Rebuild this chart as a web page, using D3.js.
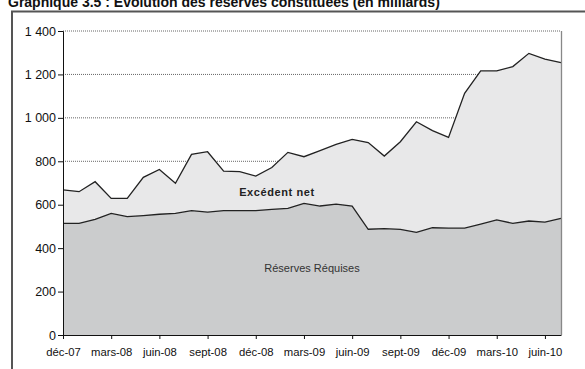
<!DOCTYPE html>
<html>
<head>
<meta charset="utf-8">
<script src="https://cdn.jsdelivr.net/npm/d3@7/dist/d3.min.js"></script>
<style>
  html, body { margin: 0; padding: 0; background: #fff; }
  svg { display: block; font-family: Arial, "Liberation Sans", sans-serif; }
</style>
</head>
<body>
<svg id="chart" width="585" height="369"></svg>
<script>
// Monthly observations, déc-07 … juil-10 (milliards)
const months = [
  "déc-07", "janv-08", "févr-08", "mars-08", "avr-08", "mai-08", "juin-08", "juil-08",
  "août-08", "sept-08", "oct-08", "nov-08", "déc-08", "janv-09", "févr-09", "mars-09",
  "avr-09", "mai-09", "juin-09", "juil-09", "août-09", "sept-09", "oct-09", "nov-09",
  "déc-09", "janv-10", "févr-10", "mars-10", "avr-10", "mai-10", "juin-10", "juil-10"
];
const reservesRequises = [
  514, 514, 533, 560, 545, 550, 556, 560, 573, 566, 573, 573, 573, 579, 583, 606,
  594, 603, 594, 487, 490, 486, 473, 494, 492, 492, 511, 530, 514, 525, 520, 537
];
const excedentNet = [
  154, 146, 173, 69, 84, 176, 206, 139, 259, 278, 182, 179, 159, 192, 258, 215,
  255, 275, 307, 399, 334, 404, 509, 447, 418, 621, 705, 686, 722, 772, 751, 717
];
const yTicks = [0, 200, 400, 600, 800, 1000, 1200, 1400];
const xTickLabels = ["déc-07", "mars-08", "juin-08", "sept-08", "déc-08", "mars-09",
  "juin-09", "sept-09", "déc-09", "mars-10", "juin-10"];

const svg = d3.select("#chart");
const plotLeft = 63, plotRight = 561, plotTop = 31, plotBottom = 335;

const x = d3.scalePoint().domain(months).range([plotLeft, plotRight]);
const y = d3.scaleLinear().domain([0, 1400]).range([plotBottom, plotTop]);
const fr = d3.formatLocale({ decimal: ",", thousands: " ", grouping: [3], currency: ["", " €"] });
const fmt = fr.format(",d");

// Title (partly above the frame)
svg.append("text")
  .attr("x", 8).attr("y", 7)
  .attr("font-size", 14).attr("font-weight", "bold").attr("fill", "#111")
  .text("Graphique 3.5 : Evolution des réserves constituées (en milliards)");

// Outer frame
svg.append("path")
  .attr("d", "M12,380 L12,11.5 L590,11.5")
  .attr("fill", "none").attr("stroke", "#555").attr("stroke-width", 2);

// Gridlines
svg.append("g").selectAll("line")
  .data(yTicks.filter(d => d > 0))
  .join("line")
  .attr("x1", plotLeft).attr("x2", plotRight)
  .attr("y1", d => y(d)).attr("y2", d => y(d))
  .attr("stroke", "#666").attr("stroke-width", 1)
  .attr("stroke-dasharray", "1,1");

// Stacked areas
const stackData = months.map((m, i) => ({ m, req: reservesRequises[i], exc: excedentNet[i] }));
const series = d3.stack().keys(["req", "exc"])(stackData);
const fills = { req: "#cbcccd", exc: "#e8e8e9" };

const area = d3.area()
  .x(d => x(d.data.m))
  .y0(d => y(d[0]))
  .y1(d => y(d[1]));
const line = d3.line()
  .x(d => x(d.data.m))
  .y(d => y(d[1]));

svg.append("g").selectAll("path")
  .data(series)
  .join("path")
  .attr("d", area)
  .attr("fill", s => fills[s.key]);

svg.append("g").selectAll("path")
  .data(series)
  .join("path")
  .attr("d", line)
  .attr("fill", "none")
  .attr("stroke", "#222")
  .attr("stroke-width", 1.3)
  .attr("stroke-linejoin", "miter");

// Plot area right border
svg.append("line")
  .attr("x1", plotRight + 0.5).attr("x2", plotRight + 0.5)
  .attr("y1", plotTop).attr("y2", plotBottom)
  .attr("stroke", "#888").attr("stroke-width", 1.3);

// Axes
const yAxis = d3.axisLeft(y).tickValues(yTicks).tickFormat(fmt).tickSize(5).tickPadding(2);
const gy = svg.append("g").attr("transform", `translate(${plotLeft},0)`).call(yAxis);
gy.select(".domain").attr("stroke", "#111");
gy.selectAll(".tick line").attr("stroke", "#111");
gy.selectAll(".tick text").attr("font-size", 12.5).attr("fill", "#111")
  .attr("font-family", "Arial, 'Liberation Sans', sans-serif");

const xAxis = d3.axisBottom(x).tickValues(xTickLabels).tickSize(4).tickPadding(9).tickSizeOuter(0);
const gx = svg.append("g").attr("transform", `translate(0,${plotBottom})`).call(xAxis);
gx.select(".domain").attr("stroke", "#111");
gx.selectAll(".tick line").attr("stroke", "#111");
gx.selectAll(".tick text").attr("font-size", 11.3).attr("fill", "#111")
  .attr("font-family", "Arial, 'Liberation Sans', sans-serif");

// Series labels
svg.append("text")
  .attr("x", 277).attr("y", 196)
  .attr("text-anchor", "middle")
  .attr("font-size", 11).attr("font-weight", "bold").attr("fill", "#222")
  .attr("letter-spacing", 0.6)
  .text("Excédent net");
svg.append("text")
  .attr("x", 312).attr("y", 272)
  .attr("text-anchor", "middle")
  .attr("font-size", 11).attr("font-weight", "normal").attr("fill", "#333")
  .text("Réserves Réquises");
</script>
</body>
</html>
